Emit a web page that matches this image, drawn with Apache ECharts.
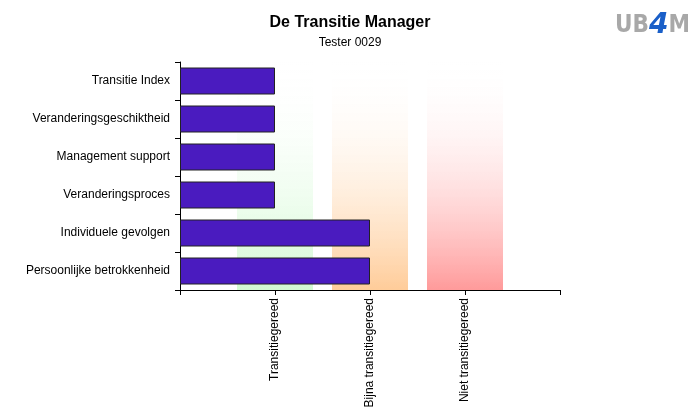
<!DOCTYPE html>
<html><head><meta charset="utf-8">
<script src="https://cdn.jsdelivr.net/npm/echarts@6/dist/echarts.min.js"></script>
<style>html,body{margin:0;padding:0;background:#fff}#c{width:700px;height:420px}</style>
</head><body><div id="c"></div>
<script>
const categories = ["Persoonlijke betrokkenheid","Individuele gevolgen","Veranderingsproces","Management support","Veranderingsgeschiktheid","Transitie Index"];
const values = [2,2,1,1,1,1];
const tickLabels = {1:"Transitiegereed",2:"Bijna transitiegereed",3:"Niet transitiegereed"};
const bands = [[0.6,1.4,"#d2fad2"],[1.6,2.4,"#ffcc99"],[2.6,3.4,"#ff9a9a"]];
const grad = c => ({type:'linear',x:0,y:0,x2:0,y2:1,colorStops:[{offset:0,color:'rgba(255,255,255,0)'},{offset:1,color:c}]});
const chart = echarts.init(document.getElementById('c'));
chart.setOption({
  animation:false,
  title:{text:'De Transitie Manager',subtext:'Tester 0029',left:'center',top:10,itemGap:6,
    textStyle:{fontFamily:'Liberation Sans, Arial',fontSize:16,fontWeight:'bold',color:'#000'},
    subtextStyle:{fontFamily:'Liberation Sans, Arial',fontSize:12,color:'#000'}},
  graphic:[{type:'text',right:10,top:12,style:{text:'{g|UB}{b|4}{g|M}',
    rich:{g:{font:'bold 24px "DejaVu Sans Condensed"',fill:'#a8a8a8',color:'#a8a8a8'},
          b:{font:'bold italic 28px "DejaVu Sans"',fill:'#1a5fc8',color:'#1a5fc8'}}}}],
  grid:{left:180,right:140,top:62,bottom:130},
  xAxis:{type:'value',min:0,max:4,interval:1,splitLine:{show:false},
    axisLine:{show:true,lineStyle:{color:'#000'}},axisTick:{show:true,length:5,lineStyle:{color:'#000'}},
    axisLabel:{rotate:90,color:'#000',fontFamily:'Liberation Sans, Arial',fontSize:12,
      formatter:v=>tickLabels[v]||''}},
  yAxis:{type:'category',data:categories,
    axisLine:{lineStyle:{color:'#000'}},axisTick:{show:true,length:5,lineStyle:{color:'#000'}},
    axisLabel:{color:'#000',fontFamily:'Liberation Sans, Arial',fontSize:12,margin:10}},
  series:[{type:'bar',data:values,barWidth:27,z:3,
    itemStyle:{color:'#4a1bbf',borderColor:'#222',borderWidth:1},
    markArea:{silent:true,z:1,data:bands.map(b=>[{xAxis:b[0],itemStyle:{color:grad(b[2])}},{xAxis:b[1]}])}}]
});
</script></body></html>
